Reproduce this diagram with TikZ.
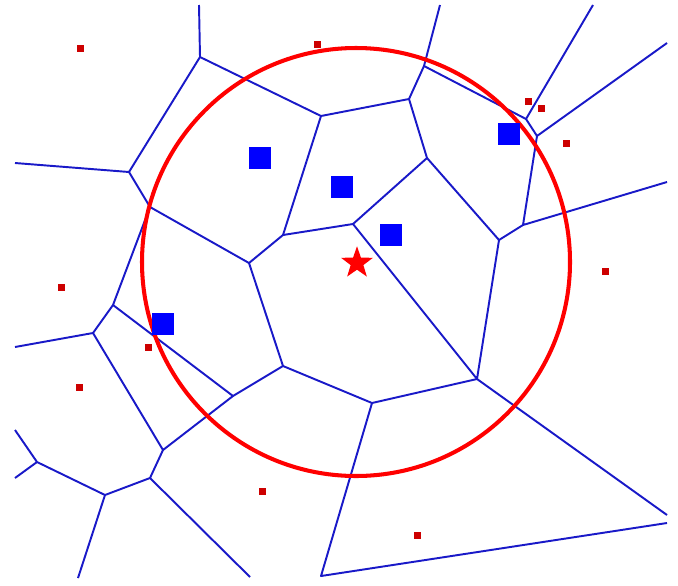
\documentclass[tikz,border=0pt]{standalone}
\usetikzlibrary{shapes.geometric}

\definecolor{edgeblue}{RGB}{25,25,200}
\definecolor{siteblue}{RGB}{0,0,255}
\definecolor{dotred}{RGB}{205,0,0}

\begin{document}
\begin{tikzpicture}[
    x=0.02cm, y=-0.02cm,
    cell/.style={
        draw=edgeblue,
        line width=1.1pt,
        line join=round
    },
    query/.style={
        star,
        star points=5,
        star point ratio=2.5,
        fill=red,
        minimum size=0.67cm,
        inner sep=0pt
    },
    site/.style={
        fill=siteblue,
        minimum size=0.44cm,
        inner sep=0pt
    },
    sample/.style={
        fill=dotred,
        minimum size=0.14cm,
        inner sep=0pt
    }
]
    \useasboundingbox (0,0) rectangle (678,585);

    % vertices of the cells
    \coordinate (va) at (200,57);
    \coordinate (vb) at (321,116);
    \coordinate (vc) at (129,172);
    \coordinate (vd) at (150,207);
    \coordinate (ve) at (249,263);
    \coordinate (vf) at (283,235);
    \coordinate (vg) at (424,66);
    \coordinate (vh) at (409,99);
    \coordinate (vi) at (427,158);
    \coordinate (vj) at (353,224);
    \coordinate (vk) at (499,240);
    \coordinate (vl) at (523,225);
    \coordinate (vm) at (537,136);
    \coordinate (vn) at (526,119);
    \coordinate (vo) at (477,379);
    \coordinate (vp) at (372,403);
    \coordinate (vq) at (321,576);
    \coordinate (vs) at (113,305);
    \coordinate (vt) at (93,333);
    \coordinate (vu) at (233,396);
    \coordinate (vv) at (283,366);
    \coordinate (vw) at (163,450);
    \coordinate (vx) at (150,478);
    \coordinate (vy) at (105,495);
    \coordinate (vz) at (37,462);

    % open ends at the border
    \coordinate (enda) at (199,5);
    \coordinate (endc) at (15,163);
    \coordinate (endg) at (440,5);
    \coordinate (endl) at (667,182);
    \coordinate (endm) at (667,43);
    \coordinate (endn) at (593,5);
    \coordinate (endo) at (667,515);
    \coordinate (endq) at (667,523);
    \coordinate (endt) at (15,347);
    \coordinate (endx) at (250,577);
    \coordinate (endy) at (78,578);
    \coordinate (endz) at (15,430);
    \coordinate (endzz) at (15,478);

    % cell edges
    \draw[cell] (enda) -- (va) -- (vb) -- (vh) -- (vg) -- (endg);
    \draw[cell] (endc) -- (vc) -- (vd) -- (ve) -- (vf) -- (vb);
    \draw[cell] (va) -- (vc);
    \draw[cell] (vf) -- (vj) -- (vi) -- (vh);
    \draw[cell] (vg) -- (vn) -- (endn);
    \draw[cell] (vn) -- (vm) -- (endm);
    \draw[cell] (vm) -- (vl) -- (endl);
    \draw[cell] (vi) -- (vk) -- (vl);
    \draw[cell] (vj) -- (vo) -- (vk);
    \draw[cell] (vo) -- (endo);
    \draw[cell] (vo) -- (vp) -- (vv) -- (ve);
    \draw[cell] (vp) -- (vq) -- (endq);
    \draw[cell] (vd) -- (vs) -- (vu) -- (vv);
    \draw[cell] (vs) -- (vt) -- (endt);
    \draw[cell] (vt) -- (vw) -- (vu);
    \draw[cell] (vw) -- (vx) -- (endx);
    \draw[cell] (vx) -- (vy) -- (endy);
    \draw[cell] (vy) -- (vz) -- (endz);
    \draw[cell] (vz) -- (endzz);

    % query range
    \draw[red, line width=2.3pt] (356,262) circle (214);

    % samples outside
    \node[sample] (s1) at (80,48) {};
    \node[sample] (s2) at (317,44) {};
    \node[sample] (s3) at (528,101) {};
    \node[sample] (s4) at (541,108) {};
    \node[sample] (s5) at (566,143) {};
    \node[sample] (s6) at (605,271) {};
    \node[sample] (s7) at (61,287) {};
    \node[sample] (s8) at (148,347) {};
    \node[sample] (s9) at (79,387) {};
    \node[sample] (s10) at (262,491) {};
    \node[sample] (s11) at (417,535) {};

    % sites inside
    \node[site] (site1) at (260,158) {};
    \node[site] (site2) at (342,187) {};
    \node[site] (site3) at (391,235) {};
    \node[site] (site4) at (509,134) {};
    \node[site] (site5) at (163,324) {};

    % query point
    \node[query] (center) at (357,263) {};
\end{tikzpicture}
\end{document}
